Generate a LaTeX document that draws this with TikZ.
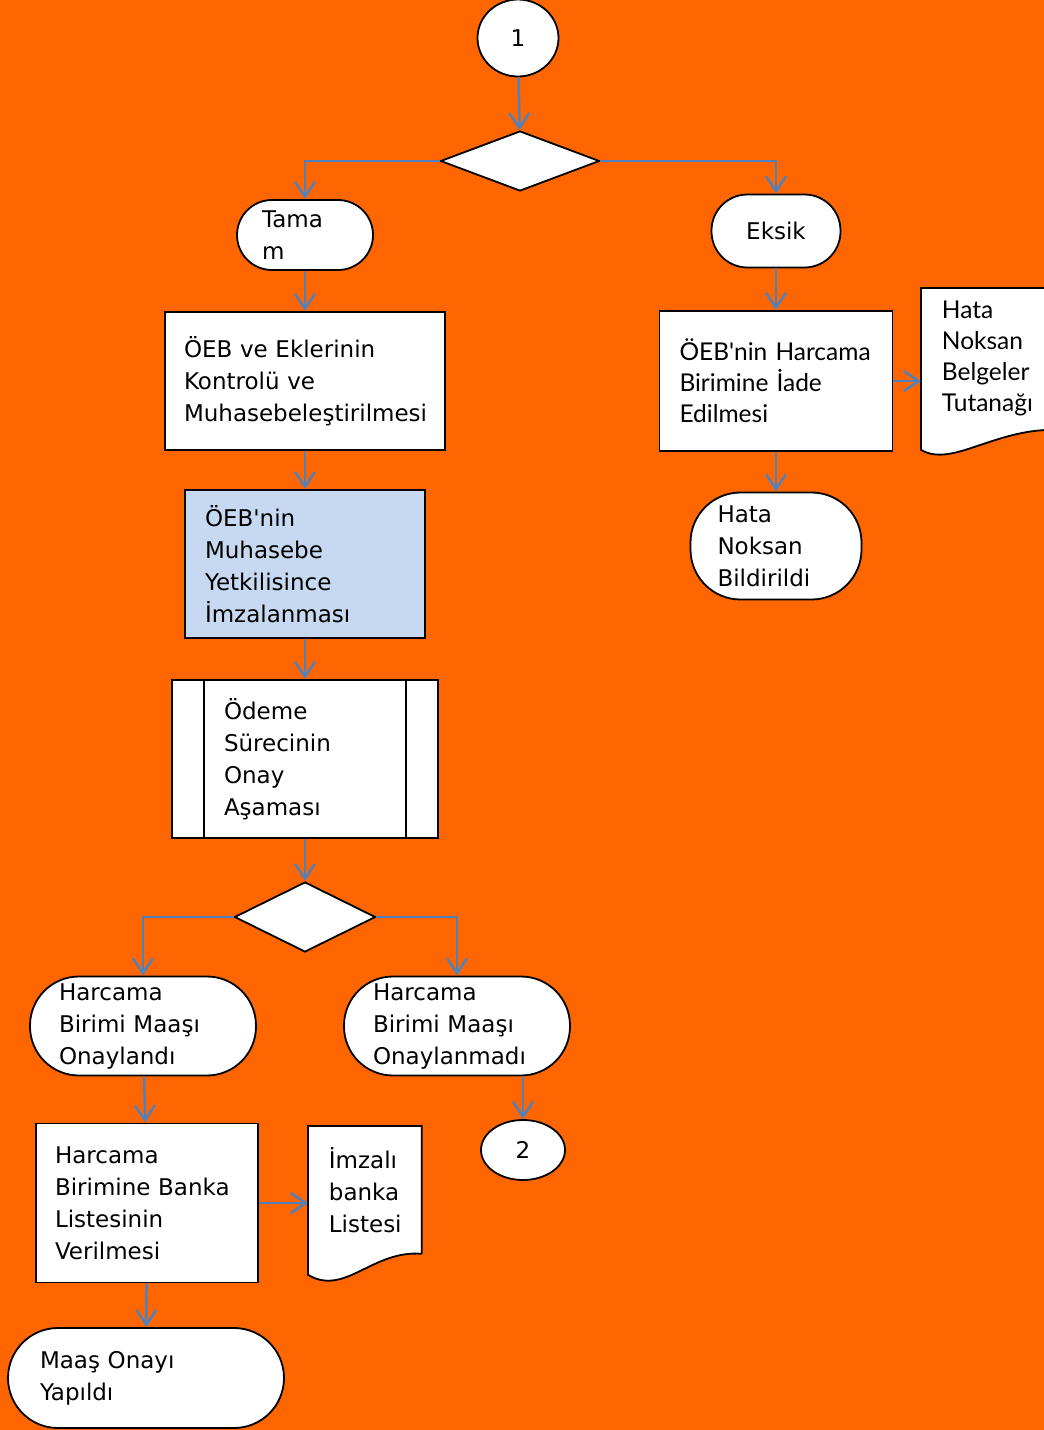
\documentclass[tikz,border=0pt]{standalone}
\usepackage{fontspec}
\setmainfont{DejaVu Sans}
\newfontfamily\gillfont{Lato}
\usetikzlibrary{%
  arrows.meta,%
  shapes.geometric,% ellipse, diamond
  calc%
}
\definecolor{bgorange}{HTML}{FF6600}
\definecolor{linkblue}{HTML}{4F81BD}
\definecolor{signblue}{HTML}{C6D9F1}

\begin{document}
\begin{tikzpicture}
  [
  x=1pt, y=-1pt, line width=1.8pt,
  >={Straight Barb[length=15pt,width=20pt]},
  every node/.style={font=\fontsize{23}{32}\selectfont},
  procbox/.style={rectangle, draw=black, fill=white, align=left, inner ysep=0pt},
  termbox/.style={procbox, rounded corners=#1},
  connbox/.style={ellipse, draw=black, fill=white, inner sep=0pt},
  decision/.style={diamond, draw=black, fill=white, inner sep=0pt},
  docbox/.style={rectangle, fill=white, align=left, inner ysep=0pt},
  link/.style={->, draw=linkblue, line width=2.5pt},
  gill/.style={font=\gillfont\fontsize{24.5}{31}\selectfont}
  ]

  \useasboundingbox (0,0) rectangle (1044,1430);
  \clip (0,0) rectangle (1044,1430);
  \fill[bgorange] (0,0) rectangle (1044,1430);

  % left column
  \node[connbox, minimum width=81pt, minimum height=77pt] (c1) at (518,38) {1};
  \node[decision, minimum width=159pt, minimum height=60pt] (d1) at (520,161) {};

  \node[termbox=35pt, minimum width=136pt, minimum height=70pt, text width=86pt, inner xsep=25pt]
    (tam) at (305,235) {Tama\\m};
  \node[procbox, minimum width=280pt, minimum height=138pt, text width=242pt, inner xsep=19pt]
    (kont) at (305,381) {ÖEB ve Eklerinin\\Kontrolü ve\\Muhasebeleştirilmesi};
  \node[procbox, fill=signblue, minimum width=240pt, minimum height=148pt, text width=200pt, inner xsep=20pt]
    (imz) at (305,564) {ÖEB\textquotesingle nin\\Muhasebe\\Yetkilisince\\İmzalanması};
  \node[procbox, minimum width=266pt, minimum height=158pt, text width=162pt, inner xsep=52pt]
    (ode) at (305,759) {Ödeme\\Sürecinin\\Onay\\Aşaması};
  \draw ([xshift=33pt]ode.north west) -- ([xshift=33pt]ode.south west);
  \draw ([xshift=-33pt]ode.north east) -- ([xshift=-33pt]ode.south east);

  \node[decision, minimum width=141pt, minimum height=70pt] (d2) at (305,917) {};

  \node[termbox=49pt, minimum width=226pt, minimum height=99pt, text width=168pt, inner xsep=29pt]
    (ony) at (143,1026) {Harcama\\Birimi Maaşı\\Onaylandı};
  \node[termbox=49pt, minimum width=226pt, minimum height=99pt, text width=168pt, inner xsep=29pt]
    (onm) at (457,1026) {Harcama\\Birimi Maaşı\\Onaylanmadı};
  \node[connbox, minimum width=84pt, minimum height=60pt] (c2) at (523,1150) {2};

  \node[procbox, minimum width=222pt, minimum height=159pt, text width=184pt, inner xsep=19pt]
    (bank) at (147,1203) {Harcama\\Birimine Banka\\Listesinin\\Verilmesi};
  \node[docbox, anchor=north west, minimum width=112pt, minimum height=126pt, text width=72pt, inner xsep=20pt]
    (imza) at (308,1126) {İmzalı\\banka\\Listesi};
  \fill[white] ([yshift=2pt]imza.south west) -- ([yshift=-21pt]imza.south west)
    .. controls +(37,22) and +(-50,-4) .. (imza.south east) -- ([yshift=2pt]imza.south east) -- cycle;
  \draw (imza.south east) -- (imza.north east) -- (imza.north west) -- ([yshift=-21pt]imza.south west)
    .. controls +(37,22) and +(-50,-4) .. (imza.south east);

  \node[termbox=50pt, minimum width=276pt, minimum height=100pt, text width=212pt, inner xsep=32pt]
    (maas) at (146,1378) {Maaş Onayı\\Yapıldı};

  % right column
  \node[termbox=36pt, minimum width=129pt, minimum height=73pt, align=center]
    (eks) at (776,231) {Eksik};
  \node[procbox, gill, minimum width=233pt, minimum height=140pt, text width=193pt, inner xsep=20pt]
    (iade) at (776,381) {ÖEB'nin Harcama\\Birimine İade\\Edilmesi};
  \node[docbox, gill, anchor=north west, minimum width=130pt, minimum height=140pt, text width=90pt, inner xsep=20pt]
    (tut) at (921,288) {Hata\\Noksan\\Belgeler\\Tutanağı};
  \fill[white] ([yshift=2pt]tut.south west) -- ([yshift=-20pt]tut.south west)
    .. controls +(30,18) and +(-60,0) .. (tut.south east) -- ([yshift=2pt]tut.south east) -- cycle;
  \draw (tut.south east) -- (tut.north east) -- (tut.north west) -- ([yshift=-20pt]tut.south west)
    .. controls +(30,18) and +(-60,0) .. (tut.south east);
  \node[termbox=50pt, minimum width=171pt, minimum height=107pt, text width=117pt, inner xsep=27pt]
    (bil) at (776,546) {Hata\\Noksan\\Bildirildi};

  % connectors
  \draw[link] (c1) -- (d1);
  \draw[link] (d1.west) -| (tam);
  \draw[link] (d1.east) -| (eks);
  \draw[link] (tam) -- (kont);
  \draw[link] (kont) -- (imz);
  \draw[link] (imz) -- (ode);
  \draw[link] (ode) -- (d2);
  \draw[link] (d2.west) -| (ony);
  \draw[link] (d2.east) -| (onm);
  \draw[link] (ony) -- (bank);
  \draw[link] (bank.east) -- (bank.east -| imza.west);
  \draw[link] (bank) -- (maas);
  \draw[link] (onm.south -| c2) -- (c2);
  \draw[link] (eks) -- (iade);
  \draw[link] (iade.east) -- (iade.east -| tut.west);
  \draw[link] (iade) -- (bil);
\end{tikzpicture}
\end{document}
